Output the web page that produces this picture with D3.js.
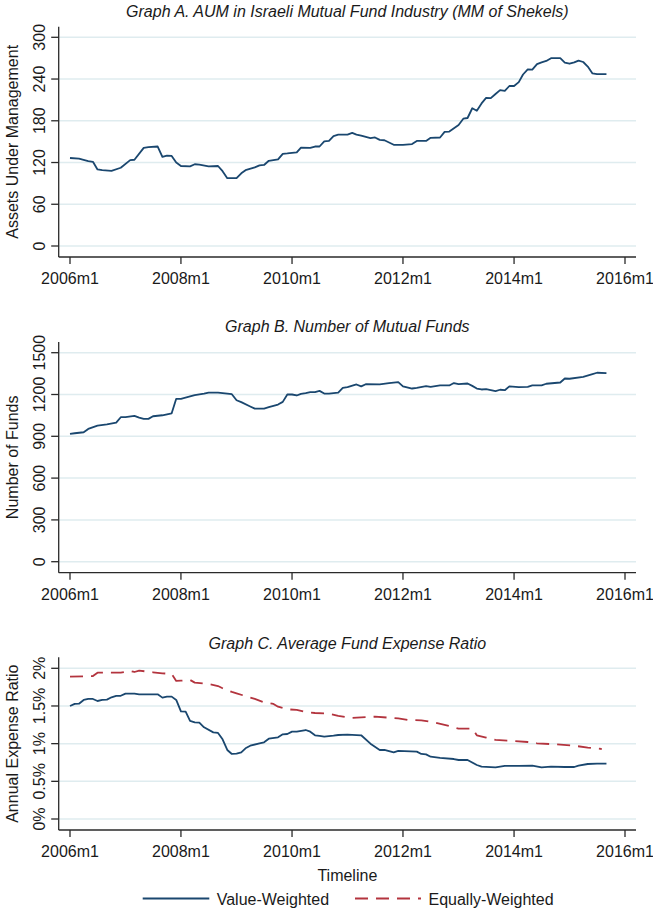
<!DOCTYPE html>
<html>
<head>
<meta charset="utf-8">
<script src="https://cdn.jsdelivr.net/npm/d3@7"></script>
<style>
  body { margin: 0; background: #fff; }
  svg text { font-family: "Liberation Sans", Arial, sans-serif; fill: #1a1a1a; }
</style>
</head>
<body>
<div id="chart"></div>
<script>
// months counted from 2006m1
const aumMonth = [0,2,4,5,6,7,9,11,13,14,16,17,19,20,21,22,23,24,26,27,28,30,32,33,34,36,37,38,40,41,42,43,45,46,47,49,50,52,53,54,55,56,57,58,60,61,62,63,65,66,67,68,70,72,74,75,77,78,80,81,82,84,85,86,87,88,89,90,91,92,93,94,95,96,97,98,99,100,101,102,103,104,106,107,108,109,110,111,112,113,114,116];
const aumValue = [126.5,125.5,122,121,110,109,108,112.5,123.5,124,141,142,143,128,130,129.5,120,115,114.5,117.5,117,114.5,115,107.5,97.5,97.5,104.5,109,113,116,116.5,122.5,124.5,132.5,133,134.5,141.5,141,143,143,150.5,151,158,160,160,162.5,160,158.5,155,156,152.5,152,145.5,145.5,146.5,151,151,155.5,156,164,164.5,174,183,184,198,194.5,205,213,212.5,218.5,224,223,230,230,235.5,246.5,254,253.5,261.5,264,266,270,270,263.5,262,264,266.5,264.5,258,248,247,247];

const fundMonth = [0,1,3,4,6,8,10,11,12,14,15,16,17,18,20,22,23,24,26,27,29,30,32,34,35,36,37,39,40,42,43,45,46,47,48,49,50,51,52,53,54,55,56,58,59,60,62,63,64,67,69,71,72,74,75,77,78,80,82,83,84,86,87,88,89,90,92,93,94,95,97,99,100,102,103,106,107,108,111,113,114,116];
const fundValue = [917,922,929,953,977,986,998,1037,1037,1046,1034,1025,1025,1044,1051,1065,1169,1169,1186,1195,1207,1214,1214,1207,1202,1159,1145,1114,1099,1099,1109,1128,1147,1200,1200,1193,1205,1210,1217,1217,1226,1207,1207,1214,1248,1253,1272,1258,1274,1272,1282,1289,1258,1243,1248,1260,1255,1265,1265,1282,1274,1279,1262,1243,1236,1238,1224,1234,1231,1258,1253,1255,1265,1265,1277,1286,1315,1313,1327,1346,1356,1354];

const vwMonth = [0,1,2,3,4,5,6,7,8,9,10,11,12,14,15,19,20,21,22,23,24,25,26,27,28,29,31,32,33,34,35,36,37,38,39,41,42,43,45,46,47,48,49,51,52,53,54,55,57,58,60,63,65,67,68,70,71,75,76,77,78,80,83,84,86,88,89,92,94,97,100,102,104,107,109,110,112,114,116];
const vwValue = [1.50,1.527,1.53,1.58,1.593,1.593,1.566,1.58,1.584,1.615,1.633,1.635,1.664,1.664,1.655,1.655,1.611,1.624,1.624,1.58,1.429,1.425,1.301,1.283,1.279,1.217,1.15,1.142,1.058,0.916,0.863,0.867,0.885,0.938,0.973,1.004,1.018,1.066,1.084,1.124,1.128,1.159,1.159,1.181,1.159,1.111,1.102,1.093,1.106,1.115,1.119,1.111,1.0,0.916,0.916,0.885,0.903,0.894,0.863,0.858,0.827,0.81,0.796,0.783,0.783,0.717,0.695,0.686,0.704,0.704,0.708,0.686,0.695,0.69,0.69,0.708,0.73,0.735,0.735];

const ewMonth = [0,3,5,6,8,11,13,14,15,18,20,22,23,24,26,27,30,32,33,35,36,39,40,42,44,45,47,49,51,53,56,58,61,63,66,71,73,76,79,82,84,87,88,90,92,95,99,101,105,109,112,115];
const ewValue = [1.889,1.894,1.898,1.942,1.942,1.942,1.965,1.951,1.969,1.947,1.934,1.925,1.832,1.836,1.845,1.81,1.792,1.765,1.735,1.686,1.668,1.611,1.593,1.549,1.527,1.491,1.456,1.447,1.42,1.407,1.398,1.37,1.341,1.35,1.358,1.336,1.314,1.31,1.279,1.235,1.199,1.199,1.111,1.08,1.049,1.04,1.022,1.004,0.991,0.973,0.947,0.929];

const aumTicks = [0, 60, 120, 180, 240, 300];
const fundTicks = [0, 300, 600, 900, 1200, 1500];
const expTicks = [0, 0.5, 1, 1.5, 2];
const yearTicks = [2006, 2008, 2010, 2012, 2014, 2016];

const width = 653, height = 915;
const navy = "#1a476f", maroon = "#b3343e", grid = "#dfecef", axisColor = "#2a2a2a";
const plotLeft = 58.7, plotRight = 636;

const svg = d3.select("#chart").append("svg")
    .attr("width", width)
    .attr("height", height);

const x = d3.scaleTime()
    .domain([new Date(2006, 0, 1), new Date(2016, 0, 1)])
    .range([70, 625]);

const toDate = m => new Date(2006, m, 1);

function drawPanel(p) {
    const y = d3.scaleLinear().domain(p.domain).range([p.zeroY, p.topY]);
    const g = svg.append("g");

    // gridlines
    p.ticks.forEach(t => {
        g.append("line")
            .attr("x1", plotLeft).attr("x2", plotRight)
            .attr("y1", y(t)).attr("y2", y(t))
            .attr("stroke", grid)
            .attr("stroke-width", 1.5);
    });

    // series
    p.series.forEach(s => {
        const line = d3.line()
            .x((d, i) => x(toDate(d)))
            .y((d, i) => y(s.values[i]));
        g.append("path")
            .attr("d", line(s.months))
            .attr("fill", "none")
            .attr("stroke", s.color)
            .attr("stroke-width", 1.8)
            .attr("stroke-linejoin", "round")
            .attr("stroke-dasharray", s.dash || null);
    });

    // axes lines
    g.append("line")
        .attr("x1", plotLeft).attr("x2", plotLeft)
        .attr("y1", p.axisTop).attr("y2", p.axisBottom)
        .attr("stroke", axisColor).attr("stroke-width", 1.3);
    g.append("line")
        .attr("x1", plotLeft).attr("x2", plotRight)
        .attr("y1", p.axisBottom).attr("y2", p.axisBottom)
        .attr("stroke", axisColor).attr("stroke-width", 1.3);

    // y ticks (rotated labels)
    p.ticks.forEach(t => {
        g.append("line")
            .attr("x1", plotLeft - 7.5).attr("x2", plotLeft)
            .attr("y1", y(t)).attr("y2", y(t))
            .attr("stroke", axisColor).attr("stroke-width", 1.3);
        g.append("text")
            .attr("transform", `translate(45,${y(t)}) rotate(-90)`)
            .attr("text-anchor", "middle")
            .attr("font-size", 16)
            .text(p.fmt(t));
    });

    // x ticks
    yearTicks.forEach(yr => {
        const d = new Date(yr, 0, 1);
        g.append("line")
            .attr("x1", x(d)).attr("x2", x(d))
            .attr("y1", p.axisBottom).attr("y2", p.axisBottom + 7)
            .attr("stroke", axisColor).attr("stroke-width", 1.3);
        g.append("text")
            .attr("x", x(d))
            .attr("y", p.axisBottom + 27)
            .attr("text-anchor", "middle")
            .attr("font-size", 16)
            .text(yr + "m1");
    });

    // title and y label
    g.append("text")
        .attr("x", (plotLeft + plotRight) / 2)
        .attr("y", p.titleY)
        .attr("text-anchor", "middle")
        .attr("font-size", 16)
        .attr("font-style", "italic")
        .text(p.title);
    g.append("text")
        .attr("transform", `translate(17.5,${(p.axisTop + p.axisBottom) / 2}) rotate(-90)`)
        .attr("text-anchor", "middle")
        .attr("font-size", 16)
        .text(p.ylabel);
}

drawPanel({
    title: "Graph A. AUM in Israeli Mutual Fund Industry (MM of Shekels)",
    ylabel: "Assets Under Management",
    domain: [0, 300], ticks: aumTicks, fmt: d => d,
    zeroY: 246, topY: 37.3, axisTop: 26.7, axisBottom: 257, titleY: 17,
    series: [{ months: aumMonth, values: aumValue, color: navy }]
});

drawPanel({
    title: "Graph B. Number of Mutual Funds",
    ylabel: "Number of Funds",
    domain: [0, 1500], ticks: fundTicks, fmt: d => d,
    zeroY: 561.7, topY: 352.7, axisTop: 342, axisBottom: 572.7, titleY: 332,
    series: [{ months: fundMonth, values: fundValue, color: navy }]
});

drawPanel({
    title: "Graph C. Average Fund Expense Ratio",
    ylabel: "Annual Expense Ratio",
    domain: [0, 2], ticks: expTicks, fmt: d => d + "%",
    zeroY: 819, topY: 668.3, axisTop: 657.3, axisBottom: 830, titleY: 649,
    series: [
        { months: vwMonth, values: vwValue, color: navy },
        { months: ewMonth, values: ewValue, color: maroon, dash: "13,8" }
    ]
});

svg.append("text")
    .attr("x", (plotLeft + plotRight) / 2)
    .attr("y", 881)
    .attr("text-anchor", "middle")
    .attr("font-size", 16)
    .text("Timeline");

// legend
const legendItems = [
    { label: "Value-Weighted", color: navy, dash: null, x0: 142.7, x1: 209.3, tx: 216.7 },
    { label: "Equally-Weighted", color: maroon, dash: "13,8", x0: 355, x1: 421, tx: 428.5 }
];
legendItems.forEach(item => {
    svg.append("line")
        .attr("x1", item.x0).attr("x2", item.x1)
        .attr("y1", 898.5).attr("y2", 898.5)
        .attr("stroke", item.color)
        .attr("stroke-width", 1.8)
        .attr("stroke-dasharray", item.dash);
    svg.append("text")
        .attr("x", item.tx)
        .attr("y", 904.5)
        .attr("font-size", 16)
        .text(item.label);
});
</script>
</body>
</html>
